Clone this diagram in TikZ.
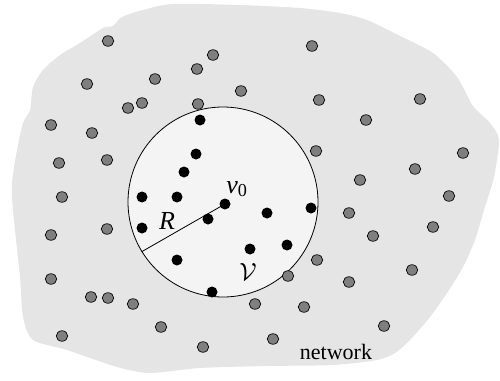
\documentclass[tikz,border=0pt]{standalone}
\usepackage{fontspec}
\setmainfont{Liberation Serif}
\usetikzlibrary{shapes.geometric}
\begin{document}
\begin{tikzpicture}[x=1pt,y=-1pt,
  ball/.style={circle, draw=black, line width=0.8pt, fill=ballgray, minimum size=190pt, inner sep=0pt},
  graydot/.style={ellipse, draw=black, line width=0.7pt, fill=dotgray, minimum width=11.5pt, minimum height=10.5pt, inner sep=0pt},
  blackdot/.style={circle, fill=black, minimum size=11pt, inner sep=0pt},
  lbl/.style={inner sep=0pt, font=\fontsize{26}{28}\selectfont},
  netlbl/.style={inner sep=0pt, font=\fontsize{22}{24}\selectfont}]
\definecolor{netgray}{HTML}{E5E5E5}
\definecolor{ballgray}{HTML}{F4F4F4}
\definecolor{dotgray}{HTML}{7F7F7F}
\useasboundingbox (0,0) rectangle (500,380);

% irregular network region
\fill[netgray] plot[smooth cycle, tension=0.45] coordinates {
  (173,4) (240,5) (300,8) (340,13) (367,20) (400,36) (433,53) (457,77)
  (473,106) (490,123) (499,140) (494,177) (484,210) (475,240) (463,267)
  (447,293) (430,317) (410,340) (395,353) (377,360) (333,365) (267,366)
  (200,368) (150,373) (117,367) (67,350) (33,340) (23,317) (20,277)
  (13,210) (12,183) (17,150) (23,123) (30,110) (33,87) (43,70) (60,55)
  (80,43) (103,28) (113,26) (122,17) (143,10)};

% neighbourhood ball of radius R around v0
\node[ball] (ball) at (223,202) {};

% nodes outside the ball
\foreach \x/\y [count=\i] in {
  108/41, 213/55, 197/69, 155/79, 87/84, 241/91, 142/103, 128/108, 198/104,
  51/125, 92/133, 59/163, 107/160,
  312/46, 319/100, 420/99, 366/120, 316/151, 463/153, 415/169, 360/180,
  62/197, 51/235, 107/229, 51/279, 91/297, 108/298, 133/304, 161/327,
  62/336, 203/347,
  449/196, 349/213, 433/227, 373/236, 317/260, 412/270, 288/276, 349/282,
  255/304, 304/307, 384/326, 273/339}
  \node[graydot] (g\i) at (\x,\y) {};

% nodes inside the ball
\node[blackdot] (v0) at (225,204) {};
\foreach \x/\y [count=\i] in {
  200/120, 196/154, 184/172, 142/197, 177/197, 208/219, 267/213,
  311/208, 142/228, 287/245, 250/249, 177/260, 212/292}
  \node[blackdot] (b\i) at (\x,\y) {};

% radius
\coordinate (rim) at (141.7,251.7);
\draw[line width=0.8pt] (v0.center) -- (rim);

% labels
\node[lbl] (lv0) at (237,189) {\textit{v}\textsubscript{0}};
\node[lbl] (lR) at (167,221) {\textit{R}};
\node[lbl] (lV) at (248,272) {$\mathcal{V}$};
\node[netlbl] (lnet) at (336,352) {network};
\end{tikzpicture}
\end{document}
